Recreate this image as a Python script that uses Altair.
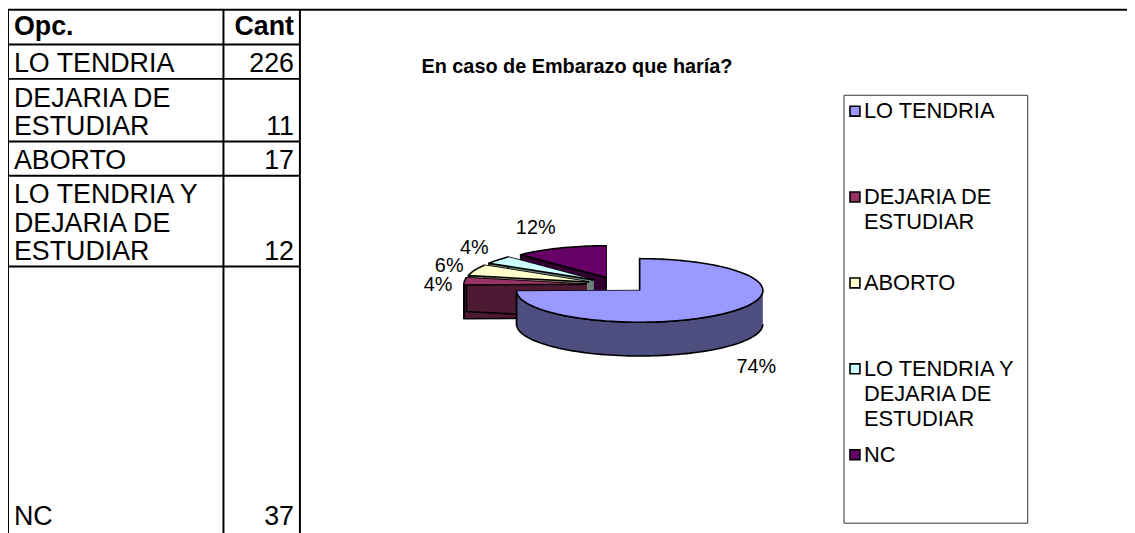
import math
import altair as alt
import numpy as np
import pandas as pd

# ---------------- data ----------------
categories = ["LO TENDRIA", "DEJARIA DE ESTUDIAR", "ABORTO",
              "LO TENDRIA Y DEJARIA DE ESTUDIAR", "NC"]
counts = [226, 11, 17, 12, 37]
wrapped = [["LO TENDRIA"], ["DEJARIA DE", "ESTUDIAR"], ["ABORTO"],
           ["LO TENDRIA Y", "DEJARIA DE", "ESTUDIAR"], ["NC"]]
pct_labels = ["74%", "4%", "6%", "4%", "12%"]
header = ["Opc.", "Cant"]
title_text = "En caso de Embarazo que haría?"

top_colors = ["#9999FF", "#993366", "#FFFFCC", "#CCFFFF", "#660066"]
side_colors = ["#4D4D80", "#4D1A33", "#808066", "#668080", "#330033"]

FONT = "Liberation Sans"

# ---------------- layout (page pixel units) ----------------
X0, Y0, PAD = 8, 8, 3
W = 1135 - X0 - PAD
H = 533 - Y0 - PAD
xscale = alt.Scale(domain=[X0 + PAD, 1135], nice=False, zero=False)
yscale = alt.Scale(domain=[Y0 + PAD, 533], nice=False, zero=False, reverse=True)
X = lambda f="x": alt.X(f"{f}:Q", scale=xscale, axis=None)
Y = lambda f="y": alt.Y(f"{f}:Q", scale=yscale, axis=None)

# table geometry
tab_left, tab_mid, tab_right, tab_top = 8, 225, 302, 8
line_h, row_pad = 28.5, 6
header_h, nc_row_h = 35, 267

# pie geometry
cx0, cy0, rx, ry, depth, explode = 622, 285, 124, 32, 34, 31

# ---------------- table ----------------
row_h = [header_h] + [len(w) * line_h + row_pad for w in wrapped[:-1]] + [nc_row_h]
bounds = [tab_top]
for h in row_h:
    bounds.append(bounds[-1] + h)

rules = []
for b in bounds[:-1]:
    rules.append(dict(x=tab_left, x2=tab_right if b != tab_top else 1140, y=b, y2=b))
for xv in (tab_left, tab_mid, tab_right):
    rules.append(dict(x=xv, x2=xv, y=tab_top, y2=545))
rules_df = pd.DataFrame(rules)

lbl_rows, num_rows = [], []
for i, (lines, c) in enumerate(zip(wrapped, counts)):
    bottom = bounds[i + 2]
    base = bottom - 6.5
    for j, ln in enumerate(lines):
        lbl_rows.append(dict(x=tab_left + 6, y=base - (len(lines) - 1 - j) * line_h, text=ln))
    num_rows.append(dict(x=tab_right - 6, y=base, text=str(c)))
lbl_df = pd.DataFrame(lbl_rows)
num_df = pd.DataFrame(num_rows)
head_l = pd.DataFrame([dict(x=tab_left + 6, y=bounds[1] - 10, text=header[0])])
head_r = pd.DataFrame([dict(x=tab_right - 6, y=bounds[1] - 10, text=header[1])])

# ---------------- pie polygons (derived from counts) ----------------
total = sum(counts)
cum = np.concatenate([[0], np.cumsum(counts)]) / total * 360.0
k = ry / rx


def rim(cx, cy, th, dy=0.0):
    t = math.radians(th)
    return (cx + rx * math.sin(t), cy - ry * math.cos(t) + dy)


slices = []
for i, cat in enumerate(categories):
    a0, a1 = cum[i], cum[i + 1]
    mid = (a0 + a1) / 2
    m = math.radians(mid)
    cx = cx0 + explode * math.sin(m)
    cy = cy0 - explode * k * math.cos(m)
    slices.append(dict(i=i, cat=cat, a0=a0, a1=a1, mid=mid, cx=cx, cy=cy))

draw_order = sorted(slices, key=lambda s: -math.cos(math.radians(s["mid"])))

rows = []
poly_ids = []
for s in draw_order:
    cat, cx, cy, a0, a1 = s["cat"], s["cx"], s["cy"], s["a0"], s["a1"]
    polys = []
    for th in (a0, a1):
        pts = [(cx, cy), rim(cx, cy, th), rim(cx, cy, th, depth), (cx, cy + depth)]
        polys.append(("side", pts))
    lo, hi = max(a0, 90.0), min(a1, 270.0)
    if hi > lo:
        arc = np.linspace(lo, hi, 80)
        pts = [rim(cx, cy, t) for t in arc] + [rim(cx, cy, t, depth) for t in arc[::-1]]
        polys.append(("side", pts))
    arc = np.linspace(a0, a1, max(8, int((a1 - a0) * 0.6)))
    polys.append(("top", [(cx, cy)] + [rim(cx, cy, t) for t in arc]))
    for n, (kind, pts) in enumerate(polys):
        pid = f"{s['i']}-{n}"
        poly_ids.append(pid)
        for j, (x, y) in enumerate(pts):
            rows.append(dict(poly=pid, key=f"{cat}|{kind}", seq=j, x=x, y=y))
poly_df = pd.DataFrame(rows)

fill_domain = [f"{c}|top" for c in categories] + [f"{c}|side" for c in categories]
fill_range = top_colors + side_colors
fill_enc = alt.Fill("key:N", scale=alt.Scale(domain=fill_domain, range=fill_range), legend=None)

poly_layers = [
    alt.Chart(poly_df).transform_filter(alt.datum.poly == pid)
    .mark_line(stroke="black", strokeWidth=1.6, strokeJoin="round")
    .encode(x=X(), y=Y(), order="seq:Q", fill=fill_enc)
    for pid in poly_ids
]

# percent labels
pl_rows = []
for s, lab in zip(slices, pct_labels):
    m = math.radians(s["mid"])
    c = math.cos(m)
    x = s["cx"] + math.sin(m) * (rx + 12)
    y = s["cy"] - c * (ry + 22) + 6 * (1 - abs(c)) + (depth + 4 if c < 0 else 0)
    pl_rows.append(dict(x=x, y=y, text=lab, side="L" if math.sin(m) >= 0 else "R"))
pl_df = pd.DataFrame(pl_rows)

# ---------------- legend ----------------
leg_box = pd.DataFrame([dict(x=850, x2=1035, y=94, y2=525)])
leg_first, leg_step, leg_line = 110, 86.5, 25.5
sq_rows, lt_rows = [], []
for i, (cat, lines) in enumerate(zip(categories, wrapped)):
    y1 = leg_first + i * leg_step
    sq_rows.append(dict(x=861, y=y1, key=f"{cat}|top"))
    for j, ln in enumerate(lines):
        lt_rows.append(dict(x=870, y=y1 + j * leg_line, text=ln))
sq_df = pd.DataFrame(sq_rows)
lt_df = pd.DataFrame(lt_rows)

title_df = pd.DataFrame([dict(x=581, y=66, text=title_text)])

# ---------------- chart ----------------
rule_layer = alt.Chart(rules_df).mark_rule(color="black", strokeWidth=2).encode(
    x=X(), x2="x2:Q", y=Y(), y2="y2:Q")


def txt(df, align="left", weight="normal", size=27, baseline="alphabetic"):
    return alt.Chart(df).mark_text(align=align, baseline=baseline, font=FONT,
                                   fontSize=size, fontWeight=weight, color="black").encode(
        x=X(), y=Y(), text="text:N")


legend_rect = alt.Chart(leg_box).mark_rect(fill="white", stroke="#333333", strokeWidth=1).encode(
    x=X(), x2="x2:Q", y=Y(), y2="y2:Q")
legend_sq = alt.Chart(sq_df).mark_square(size=100, stroke="black", strokeWidth=1.6, opacity=1).encode(
    x=X(), y=Y(), fill=fill_enc)

layers = [
    rule_layer,
    txt(lbl_df), txt(num_df, align="right"),
    txt(head_l, weight="bold"), txt(head_r, align="right", weight="bold"),
    txt(title_df, align="center", weight="bold", size=20, baseline="middle"),
    legend_rect, legend_sq,
    txt(lt_df, size=22, baseline="middle"),
] + poly_layers + [
    txt(pl_df[pl_df.side == "L"], align="left", size=20, baseline="middle"),
    txt(pl_df[pl_df.side == "R"], align="right", size=20, baseline="middle"),
]

chart = alt.layer(*layers).properties(
    width=W, height=H, autosize="none",
    padding={"left": PAD, "top": PAD, "right": 0, "bottom": 0},
).configure_view(stroke=None)

chart.save("out.html", embed_options={"renderer": "svg", "actions": False})
